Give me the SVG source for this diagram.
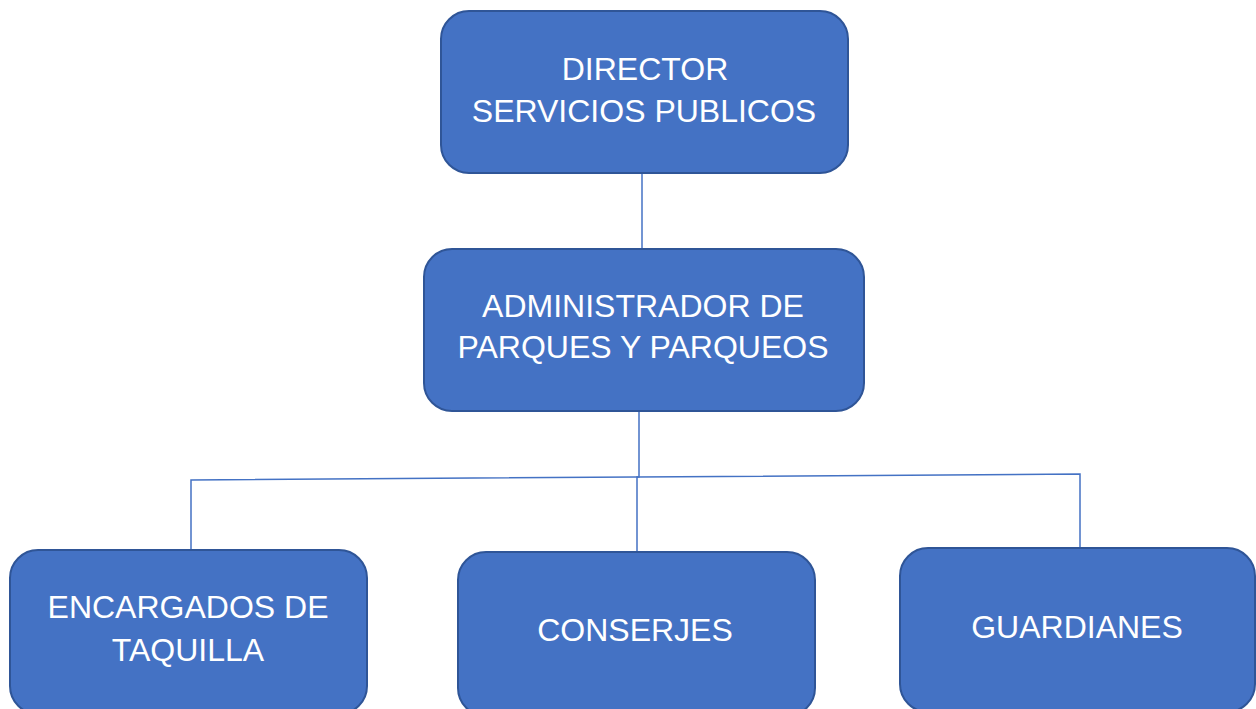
<svg xmlns="http://www.w3.org/2000/svg" width="1256" height="709" viewBox="0 0 1256 709">
<style>
.box{fill:#4472C4;stroke:#2F5597;stroke-width:2}
.lbl{fill:#FFFFFF;font-family:"Liberation Sans",Arial,sans-serif;font-size:32px;text-anchor:middle}
.con{stroke:#4472C4;stroke-width:1.5;fill:none}
</style>
<rect width="1256" height="709" fill="#FFFFFF"/>
<g id="connectors">
<line class="con" x1="642" y1="173" x2="642" y2="249"/>
<polyline class="con" points="639,411 639,477 637,477 637,552"/>
<polyline class="con" points="191,550 191,480 1080,474 1080,548"/>
</g>
<g id="director">
<rect class="box" x="441" y="11" width="407" height="162" rx="28"/>
<text class="lbl" x="645" y="80">DIRECTOR</text>
<text class="lbl" x="644" y="122">SERVICIOS PUBLICOS</text>
</g>
<g id="administrador">
<rect class="box" x="424" y="249" width="440" height="162" rx="28"/>
<text class="lbl" x="643" y="317">ADMINISTRADOR DE</text>
<text class="lbl" x="643" y="358">PARQUES Y PARQUEOS</text>
</g>
<g id="encargados">
<rect class="box" x="10" y="550" width="357" height="164" rx="28"/>
<text class="lbl" x="188" y="618">ENCARGADOS DE</text>
<text class="lbl" x="188" y="661">TAQUILLA</text>
</g>
<g id="conserjes">
<rect class="box" x="458" y="552" width="357" height="164" rx="28"/>
<text class="lbl" x="635" y="641">CONSERJES</text>
</g>
<g id="guardianes">
<rect class="box" x="900" y="548" width="355" height="164" rx="28"/>
<text class="lbl" x="1077" y="638">GUARDIANES</text>
</g>
</svg>
